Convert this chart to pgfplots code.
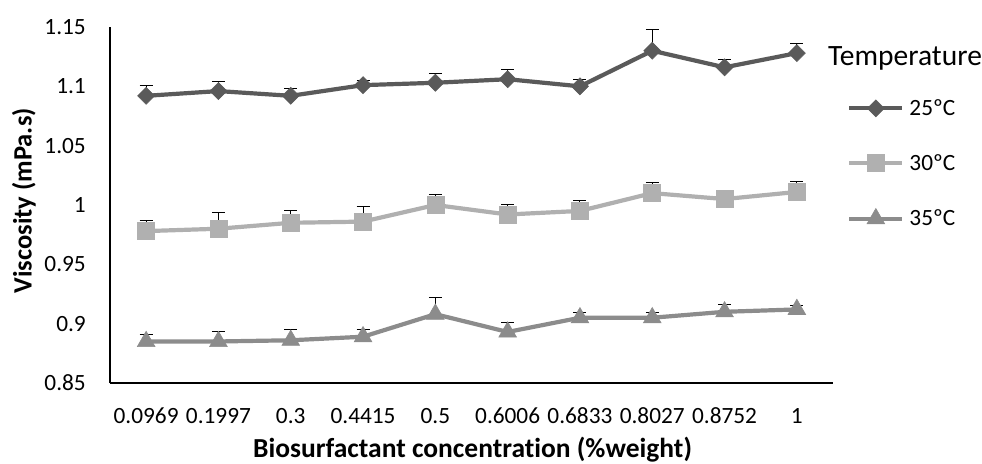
\documentclass[border=0pt]{standalone}
\usepackage{pgfplots}
\usepackage{pgfplotstable}
\pgfplotsset{compat=1.18}
\usepackage{fontspec}
\setmainfont{Carlito}[Ligatures=NoCommon]
\definecolor{c25}{HTML}{5A5A5A}
\definecolor{c30}{HTML}{B0B0B0}
\definecolor{c35}{HTML}{8C8C8C}
\pgfplotstableread{
x y e
0 1.092 0.009
1 1.096 0.008
2 1.092 0.006
3 1.101 0.004
4 1.103 0.008
5 1.106 0.008
6 1.100 0.006
7 1.130 0.018
8 1.116 0.007
9 1.128 0.008
}\tA
\pgfplotstableread{
x y e
0 0.978 0.009
1 0.980 0.014
2 0.985 0.010
3 0.986 0.013
4 1.000 0.009
5 0.992 0.008
6 0.995 0.009
7 1.010 0.009
8 1.005 0.003
9 1.011 0.009
}\tB
\pgfplotstableread{
x y e
0 0.885 0.006
1 0.885 0.008
2 0.886 0.009
3 0.889 0.006
4 0.908 0.014
5 0.893 0.008
6 0.905 0.004
7 0.905 0.004
8 0.910 0.006
9 0.912 0.003
}\tC
\begin{document}
\begin{tikzpicture}
\useasboundingbox (-110bp,-81bp) rectangle (872bp,383bp);
\begin{axis}[
 at={(0,0)}, anchor=south west,
 scale only axis, width=723bp, height=356bp,
 xmin=-0.5, xmax=9.5, ymin=0.85, ymax=1.15,
 xtick={0,...,9},
 xticklabels={0.0969,0.1997,0.3,0.4415,0.5,0.6006,0.6833,0.8027,0.8752,1},
 ytick={0.85,0.9,0.95,1,1.05,1.1,1.15},
 yticklabels={0.85,0.9,0.95,1,1.05,1.1,1.15},
 axis x line*=bottom, axis y line*=left,
 axis line style={black, line width=1.3bp, -},
 major tick length=0pt,
 tick label style={font=\fontsize{23.3bp}{28bp}\selectfont, inner sep=0pt},
 xticklabel style={anchor=base, yshift=-40bp},
 yticklabel style={anchor=east, xshift=-24bp},
 xlabel={Biosurfactant concentration (\%weight)},
 ylabel={Viscosity (mPa.s)},
 every axis x label/.style={at={(axis description cs:0.5014,0)}, anchor=base, yshift=-74.5bp, inner sep=0pt, font=\fontsize{27.5bp}{32bp}\selectfont\bfseries},
 every axis y label/.style={at={(axis description cs:-0.1083,0.512)}, rotate=90, anchor=base, inner sep=0pt, font=\fontsize{26.5bp}{32bp}\selectfont\bfseries},
 clip=false,
 legend style={draw=none, fill=none, at={(rel axis cs:1.0153,0.802)}, anchor=north west,
   font=\fontsize{23.3bp}{28bp}\selectfont, row sep=37bp, column sep=5bp,
   nodes={inner sep=0pt}},
 legend cell align=left,
 legend image code/.code={\draw[mark repeat=2,mark phase=2] plot coordinates {(0bp,0bp) (26.5bp,0bp) (53bp,0bp)};},
]
\addplot[color=c25, line width=4.2bp, mark=diamond*, mark size=8.5bp,
  mark options={solid, xscale=1.333, line width=0.6bp, fill=c25, draw=c25},
  error bars/.cd, y dir=plus, y explicit,
  error bar style={black, line width=1bp},
  error mark options={rotate=90, black, mark size=6.5bp, line width=1bp}]
  table[x=x, y=y, y error=e] {\tA};
\addlegendentry{25ºC}
\addplot[color=c30, line width=4.2bp, mark=square*, mark size=8.5bp,
  mark options={solid, line width=0.6bp, fill=c30, draw=c30},
  error bars/.cd, y dir=plus, y explicit,
  error bar style={black, line width=1bp},
  error mark options={rotate=90, black, mark size=6.5bp, line width=1bp}]
  table[x=x, y=y, y error=e] {\tB};
\addlegendentry{30ºC}
\addplot[color=c35, line width=4.2bp, mark=triangle*, mark size=10.2bp,
  mark options={solid, line width=0.6bp, fill=c35, draw=c35},
  error bars/.cd, y dir=plus, y explicit,
  error bar style={black, line width=1bp},
  error mark options={rotate=90, black, mark size=6.5bp, line width=1bp}]
  table[x=x, y=y, y error=e] {\tC};
\addlegendentry{35ºC}
\node[anchor=base west, inner sep=0pt, font=\fontsize{29.5bp}{34bp}\selectfont] at (rel axis cs:0.9931,0.893) {Temperature};
\end{axis}
\end{tikzpicture}
\end{document}
